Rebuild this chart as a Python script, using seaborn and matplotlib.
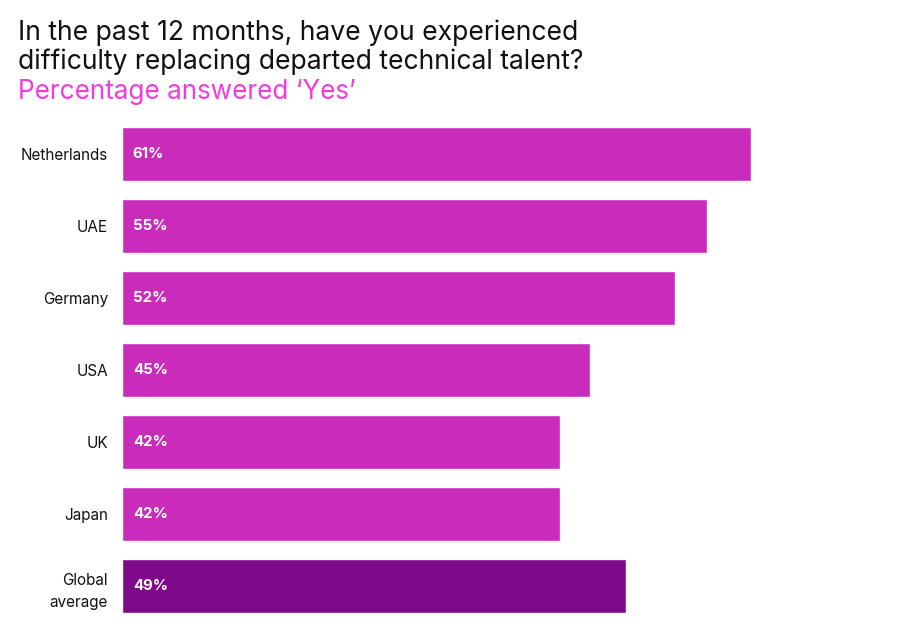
import matplotlib

matplotlib.use("Agg")
import matplotlib.pyplot as plt
import pandas as pd
import seaborn as sns

countries = ["Netherlands", "UAE", "Germany", "USA", "UK", "Japan", "Global\naverage"]
# printed labels
yes_labels = [61, 55, 52, 45, 42, 42, 49]
# bar lengths as drawn in the source graphic (not exactly to scale with the labels)
bar_len = [61, 56.7, 53.6, 45.4, 42.5, 42.5, 48.9]
bar_colors = ["#C92CBB"] * 6 + ["#7E0A8A"]

sns.set_theme(style="white")
plt.rcParams["font.family"] = ["Inter", "DejaVu Sans"]

df = pd.DataFrame({"country": countries, "pct": bar_len})

fig = plt.figure(figsize=(9, 6.36), dpi=100)
ax = fig.add_axes([122 / 900, 1 - 622 / 636, 758 / 900, (622 - 118.3) / 636])

sns.barplot(data=df, x="pct", y="country", hue="country", palette=bar_colors,
            legend=False, width=0.75, ax=ax, saturation=1)

ax.set_xlim(0, 758 / 10.31)
ax.set_ylim(6.5, -0.5)
ax.set_xlabel("")
ax.set_ylabel("")
ax.set_xticks([])
for side in ax.spines.values():
    side.set_visible(False)
ax.tick_params(axis="y", length=0, pad=10, labelsize=11, labelcolor="#111111")
for lbl in ax.get_yticklabels():
    lbl.set_horizontalalignment("right")
    lbl.set_linespacing(1.6)

for i, v in enumerate(yes_labels):
    ax.text(1.05, i, f"{v}%", color="white", fontsize=10.8, fontweight="bold",
            va="center", ha="left")

fig.text(18 / 900, 1 - 40 / 636, "In the past 12 months, have you experienced",
         fontsize=19.1, color="#111111", va="baseline")
fig.text(18 / 900, 1 - 69 / 636, "difficulty replacing departed technical talent?",
         fontsize=19.1, color="#111111", va="baseline")
fig.text(18 / 900, 1 - 99 / 636, "Percentage answered \u2018Yes\u2019",
         fontsize=18.8, color="#F03CD8", va="baseline")

fig.savefig("out.png", dpi=100, facecolor="white")
